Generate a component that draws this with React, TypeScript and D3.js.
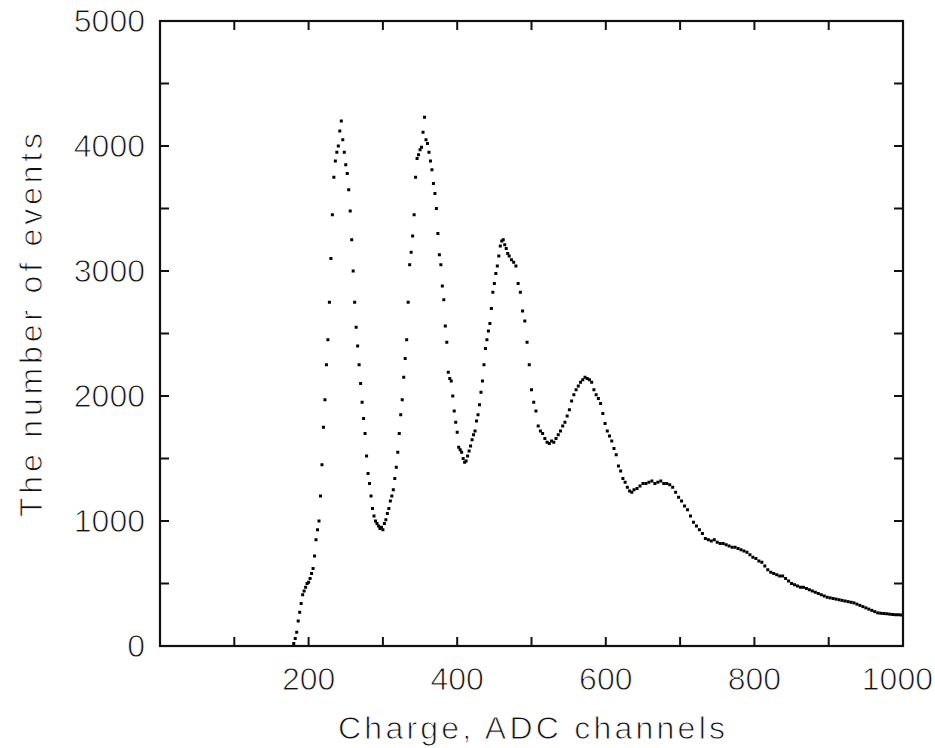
import * as d3 from "d3";
import React from "react";

// channel -> number of events
const channels = [
  180, 182, 184, 186, 188, 190, 192, 194, 196, 198, 200, 202, 204, 206, 208, 210, 212, 214, 216, 218,
  220, 222, 224, 226, 228, 230, 232, 234, 236, 238, 240, 242, 244, 246, 248, 250, 252, 254, 256, 258,
  260, 262, 264, 266, 268, 270, 272, 274, 276, 278, 280, 282, 284, 286, 288, 290, 292, 294, 296, 298,
  300, 302, 304, 306, 308, 310, 312, 314, 316, 318, 320, 322, 324, 326, 328, 330, 332, 334, 336, 338,
  340, 342, 344, 346, 348, 350, 352, 354, 356, 358, 360, 362, 364, 366, 368, 370, 372, 374, 376, 378,
  380, 382, 384, 386, 388, 390, 392, 394, 396, 398, 400, 402, 404, 406, 408, 410, 412, 414, 416, 418,
  420, 422, 424, 426, 428, 430, 432, 434, 436, 438, 440, 442, 444, 446, 448, 450, 452, 454, 456, 458,
  460, 462, 464, 466, 468, 470,
  473, 476, 479, 482, 485, 488, 491, 494, 497, 500, 503, 506, 509, 512, 515, 518, 521, 524, 527, 530,
  533, 536, 539, 542, 545, 548, 551, 554, 557, 560, 563, 566, 569, 572, 575, 578, 581, 584, 587, 590,
  593, 596, 599, 602, 605, 608, 611, 614, 617, 620, 623, 626, 629, 632, 635, 638,
  642, 646, 650, 654, 658, 662, 666, 670, 674, 678, 682, 686, 690, 694, 698, 702, 706, 710, 714, 718,
  722, 726, 730, 734, 738, 742, 746, 750, 754, 758, 762, 766, 770, 774, 778, 782, 786, 790, 794, 798,
  802, 806, 810, 814, 818, 822, 826, 830, 834, 838, 842, 846, 850, 854, 858, 862, 866, 870, 874, 878,
  882, 886, 890, 894, 898, 902, 906, 910, 914, 918, 922, 926, 930, 934, 938, 942, 946, 950, 954, 958,
  962, 966, 970, 974, 978, 982, 986, 990, 994, 998,
];

const events = [
  20, 60, 110, 200, 270, 340, 410, 440, 470, 500, 510, 540, 580, 620, 720, 850, 930, 1000, 1200, 1450,
  1750, 1970, 2250, 2450, 2750, 3100, 3450, 3750, 3880, 3950, 4000, 4120, 4200, 4050, 3950, 3850, 3780, 3650, 3480, 3250,
  3000, 2750, 2550, 2400, 2250, 2100, 1950, 1820, 1700, 1520, 1380, 1300, 1200, 1100, 1040, 1000, 980, 960, 940, 950,
  930, 980, 1010, 1060, 1100, 1160, 1200, 1250, 1340, 1430, 1550, 1700, 1850, 1970, 2150, 2300, 2450, 2750, 3050, 3150,
  3280, 3450, 3750, 3900, 3930, 3970, 3990, 4110, 4230, 4050, 4020, 3950, 3880, 3810, 3700, 3620, 3500, 3300, 3130, 3050,
  2880, 2770, 2560, 2430, 2190, 2140, 2120, 2000, 1880, 1790, 1710, 1590, 1570, 1550, 1500, 1470, 1480, 1520, 1560, 1600,
  1650, 1690, 1720, 1800, 1850, 1930, 2030, 2120, 2250, 2380, 2450, 2520, 2580, 2700, 2830, 2900, 2980, 3040, 3120, 3200,
  3240, 3250, 3210, 3180, 3140, 3120,
  3090, 3070, 3040, 2900, 2830, 2680, 2600, 2430, 2250, 2050, 1950, 1880, 1760, 1720, 1700, 1660, 1630, 1620, 1640, 1630,
  1660, 1690, 1720, 1760, 1790, 1840, 1890, 1960, 2010, 2050, 2080, 2110, 2130, 2150, 2140, 2130, 2110, 2050, 2010, 1980,
  1940, 1860, 1780, 1720, 1680, 1640, 1580, 1530, 1440, 1400, 1340, 1310, 1270, 1240, 1230, 1250,
  1260, 1280, 1300, 1300, 1310, 1320, 1300, 1310, 1320, 1300, 1300, 1290, 1270, 1230, 1190, 1160, 1120, 1090, 1040, 990,
  960, 930, 900, 860, 850, 840, 850, 830, 820, 820, 810, 800, 790, 790, 780, 770, 760, 750, 730, 710,
  700, 680, 670, 640, 610, 590, 580, 570, 560, 560, 540, 520, 500, 490, 480, 470, 470, 460, 450, 440,
  430, 420, 410, 400, 390, 385, 380, 375, 370, 365, 360, 355, 350, 345, 335, 325, 315, 305, 295, 285,
  275, 265, 262, 260, 258, 255, 252, 250, 250, 248,
];

const xTicks = d3.range(100, 1000, 100);
const xLabels = [200, 400, 600, 800, 1000];
const yTicks = d3.range(500, 5000, 500);
const yLabels = [0, 1000, 2000, 3000, 4000, 5000];

const W = 935;
const H = 748;
const left = 160;
const right = 903;
const top = 21;
const bottom = 646;
const font = "'Liberation Sans', Arial, sans-serif";

export default function App() {
  const x = d3.scaleLinear().domain([0, 1000]).range([left, right]);
  const y = d3.scaleLinear().domain([0, 5000]).range([bottom, top]);
  const tickLen = 9;

  // thin the glyphs a bit with a white outline drawn over the fill
  const textStyle = {
    fontFamily: font,
    fontSize: 32,
    fill: "#111",
    stroke: "#fff",
    strokeWidth: 0.9,
  };

  return (
    <svg
      width={W}
      height={H}
      style={{ position: "absolute", left: 0, top: 0, background: "#fff" }}
    >
      {/* data points */}
      <g fill="#000">
        {channels.map((c, i) => (
          <rect key={i} x={x(c) - 1.5} y={y(events[i]) - 1.5} width={3} height={3} />
        ))}
      </g>

      {/* frame */}
      <rect
        x={left}
        y={top}
        width={right - left}
        height={bottom - top}
        fill="none"
        stroke="#111"
        strokeWidth={2.2}
      />

      {/* ticks */}
      <g stroke="#111" strokeWidth={2}>
        {xTicks.map((t) => (
          <g key={"x" + t}>
            <line x1={x(t)} x2={x(t)} y1={bottom} y2={bottom - tickLen} />
            <line x1={x(t)} x2={x(t)} y1={top} y2={top + tickLen} />
          </g>
        ))}
        {yTicks.map((t) => (
          <g key={"y" + t}>
            <line x1={left} x2={left + tickLen} y1={y(t)} y2={y(t)} />
            <line x1={right} x2={right - tickLen} y1={y(t)} y2={y(t)} />
          </g>
        ))}
      </g>

      {/* tick labels */}
      <g style={textStyle}>
        {xLabels.map((t) =>
          t === 1000 ? (
            <text key={"xl" + t} x={933} y={690} textAnchor="end">
              {t}
            </text>
          ) : (
            <text key={"xl" + t} x={x(t)} y={690} textAnchor="middle">
              {t}
            </text>
          )
        )}
        {yLabels.map((t) => (
          <text key={"yl" + t} x={145} y={y(t) + 11} textAnchor="end">
            {t}
          </text>
        ))}
      </g>

      {/* axis titles */}
      <text
        x={(left + right) / 2}
        y={739}
        textAnchor="middle"
        style={textStyle}
        textLength={387}
        lengthAdjust="spacing"
      >
        Charge, ADC channels
      </text>
      <text
        transform={`translate(42, 325) rotate(-90)`}
        textAnchor="middle"
        style={textStyle}
        textLength={384}
        lengthAdjust="spacing"
      >
        The number of events
      </text>
    </svg>
  );
}
